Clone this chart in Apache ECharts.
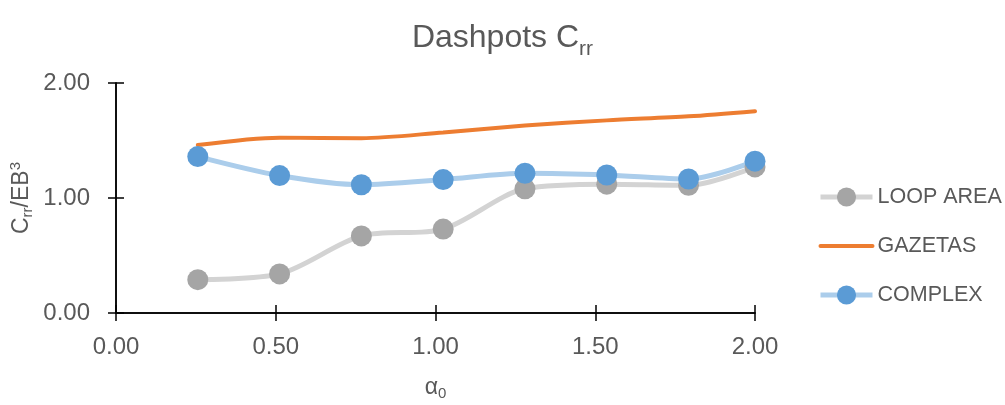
<!DOCTYPE html>
<html>
<head>
<meta charset="utf-8">
<script src="https://cdn.jsdelivr.net/npm/echarts@6/dist/echarts.min.js"></script>
<style>
  html, body { margin: 0; padding: 0; background: #fff; }
  #chart { width: 1005px; height: 405px; }
</style>
</head>
<body>
<div id="chart"></div>
<script>
// Dimensionless frequency a0 and the rocking dashpot coefficient from three methods
const alpha0 = [0.256, 0.512, 0.768, 1.024, 1.28, 1.536, 1.792, 2.0];
const loopArea = [0.29, 0.34, 0.67, 0.73, 1.08, 1.12, 1.11, 1.27];
const gazetas = [1.46, 1.525, 1.52, 1.57, 1.63, 1.675, 1.71, 1.755];
const complexMethod = [1.36, 1.195, 1.115, 1.16, 1.215, 1.2, 1.165, 1.32];

const seriesNames = ['LOOP AREA', 'GAZETAS', 'COMPLEX'];
const xTicks = { min: 0, max: 2, interval: 0.5 };
const yTicks = { min: 0, max: 2, interval: 1 };

const FONT = '"Liberation Sans", Arial, sans-serif';
const TEXT = '#595959';

function pairs(ys) { return alpha0.map((x, i) => [x, ys[i]]); }

const axisLine = { show: true, lineStyle: { color: '#000', width: 1.5 } };
const tickStyle = { color: '#000', width: 1.5 };

const chart = echarts.init(document.getElementById('chart'), null, { renderer: 'canvas' });
chart.setOption({
  backgroundColor: '#fff',
  animation: false,
  title: {
    text: '{a|Dashpots C}{b|rr}',
    left: 'center',
    top: 12,
    textStyle: {
      fontWeight: 'normal',
      rich: {
        a: { fontFamily: FONT, fontSize: 32, fontWeight: 'normal', color: TEXT },
        b: { fontFamily: FONT, fontSize: 21, fontWeight: 'normal', color: TEXT, padding: [22, 0, 0, 0] }
      }
    }
  },
  legend: {
    orient: 'vertical',
    left: 818,
    top: 186,
    padding: 0,
    itemWidth: 52,
    itemHeight: 24,
    itemGap: 27,
    data: [
      { name: seriesNames[0], lineStyle: { width: 5 } },
      { name: seriesNames[1], lineStyle: { width: 4 }, itemStyle: { opacity: 0 } },
      { name: seriesNames[2], lineStyle: { width: 5 } }
    ],
    textStyle: { fontFamily: FONT, fontSize: 21.5, color: TEXT }
  },
  grid: { left: 116, right: 250, top: 83, bottom: 92, containLabel: false, outerBoundsMode: 'none' },
  xAxis: [
    {
      type: 'value', min: xTicks.min, max: xTicks.max, interval: xTicks.interval,
      position: 'bottom',
      name: '{a|α}{b|0}',
      nameLocation: 'middle',
      nameGap: 61,
      nameMoveOverlap: false,
      nameTextStyle: {
        rich: {
          a: { fontFamily: FONT, fontSize: 23, color: TEXT },
          b: { fontFamily: FONT, fontSize: 15, color: TEXT, padding: [12, 0, 0, 0] }
        }
      },
      axisLine: axisLine,
      axisTick: { show: true, inside: false, length: 8, lineStyle: tickStyle },
      axisLabel: { fontFamily: FONT, fontSize: 24, color: TEXT, margin: 22,
                   formatter: v => v.toFixed(2) },
      splitLine: { show: false }
    },
    {
      type: 'value', min: xTicks.min, max: xTicks.max, interval: xTicks.interval,
      position: 'bottom',
      axisLine: axisLine,
      axisTick: { show: true, inside: true, length: 8, lineStyle: tickStyle },
      axisLabel: { show: false },
      splitLine: { show: false }
    }
  ],
  yAxis: [
    {
      type: 'value', min: yTicks.min, max: yTicks.max, interval: yTicks.interval,
      position: 'left',
      name: '{a|C}{b|rr}{a|/EB}{c|3}',
      nameLocation: 'middle',
      nameGap: 94,
      nameRotate: 90,
      nameMoveOverlap: false,
      nameTextStyle: {
        align: 'center',
        verticalAlign: 'middle',
        rich: {
          a: { fontFamily: FONT, fontSize: 23, color: TEXT },
          b: { fontFamily: FONT, fontSize: 15, color: TEXT, padding: [12, 0, 0, 0] },
          c: { fontFamily: FONT, fontSize: 15, color: TEXT, padding: [0, 0, 12, 0] }
        }
      },
      axisLine: axisLine,
      axisTick: { show: true, inside: false, length: 8, lineStyle: tickStyle },
      axisLabel: { fontFamily: FONT, fontSize: 24, color: TEXT, margin: 26,
                   formatter: v => v.toFixed(2) },
      splitLine: { show: false }
    },
    {
      type: 'value', min: yTicks.min, max: yTicks.max, interval: yTicks.interval,
      position: 'left',
      axisLine: axisLine,
      axisTick: { show: true, inside: true, length: 8, lineStyle: tickStyle },
      axisLabel: { show: false },
      splitLine: { show: false }
    }
  ],
  series: [
    {
      name: seriesNames[0], type: 'line', smooth: 0.3,
      data: pairs(loopArea),
      symbol: 'circle', symbolSize: 21,
      lineStyle: { color: '#d3d3d3', width: 5 },
      itemStyle: { color: '#a5a5a5', borderWidth: 0 }
    },
    {
      name: seriesNames[1], type: 'line', smooth: 0.3,
      data: pairs(gazetas),
      symbol: 'none',
      lineStyle: { color: '#ed7d31', width: 4, cap: 'round' },
      itemStyle: { color: '#ed7d31' }
    },
    {
      name: seriesNames[2], type: 'line', smooth: 0.3,
      data: pairs(complexMethod),
      symbol: 'circle', symbolSize: 21,
      lineStyle: { color: '#abcdeb', width: 5 },
      itemStyle: { color: '#5b9bd5', borderWidth: 0 }
    }
  ]
});
</script>
</body>
</html>
